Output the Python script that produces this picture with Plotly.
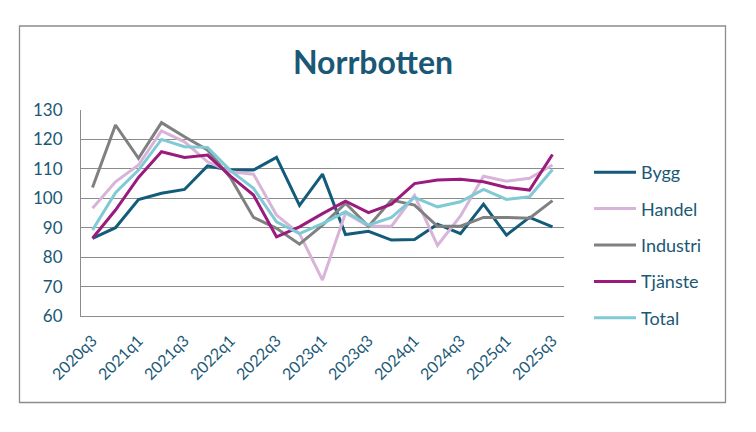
import plotly.graph_objects as go

quarters = ['2020q3', '2020q4', '2021q1', '2021q2', '2021q3', '2021q4', '2022q1', '2022q2',
            '2022q3', '2022q4', '2023q1', '2023q2', '2023q3', '2023q4', '2024q1', '2024q2',
            '2024q3', '2024q4', '2025q1', '2025q2', '2025q3']
tick_labels = quarters[::2]

bygg = [86.4, 90.0, 99.6, 101.7, 103.0, 111.0, 109.6, 109.6, 113.9, 97.6, 108.2, 87.7,
        88.8, 85.8, 86.0, 91.2, 88.0, 98.0, 87.5, 93.5, 90.3]
handel = [96.6, 105.6, 111.3, 122.9, 119.2, 112.4, 109.0, 108.2, 94.3, 88.0, 72.2, 95.0,
          90.5, 90.5, 101.0, 84.0, 94.0, 107.5, 105.8, 106.8, 111.3]
industri = [103.7, 124.9, 113.6, 125.7, 120.9, 116.4, 107.0, 93.5, 89.8, 84.4, 90.9, 98.3,
            90.5, 99.4, 97.7, 90.5, 90.5, 93.5, 93.5, 93.2, 99.2]
tjanste = [86.4, 96.0, 107.1, 115.8, 113.9, 114.7, 107.5, 101.1, 86.9, 90.3, 94.8, 99.0,
           95.1, 98.0, 105.0, 106.2, 106.5, 105.6, 103.7, 102.8, 114.9]
total = [89.2, 101.9, 109.6, 120.0, 117.5, 117.3, 109.4, 103.4, 92.0, 88.0, 91.4, 95.4,
         90.9, 93.5, 100.3, 97.1, 98.8, 103.0, 99.6, 100.5, 109.8]

series = [
    ("Bygg", bygg, "#125B7B"),
    ("Handel", handel, "#D8B4D8"),
    ("Industri", industri, "#808080"),
    ("Tjänste", tjanste, "#9A1A7E"),
    ("Total", total, "#7FCAD4"),
]

text_color = "#1A5876"
font_family = "Lato, 'Open Sans', sans-serif"

fig = go.Figure()
for i, (name, vals, col) in enumerate(series):
    fig.add_trace(go.Scatter(x=quarters, y=vals, name=name, mode="lines",
                             line=dict(color=col, width=3), legendgroup=f"g{i}"))

# plot area geometry in pixels
L, R, T, B = 81, 564, 110, 316
W, H = 756, 432
pw, ph = R - L, B - T

def px_x(px):
    return (px - L) / pw

def px_y(py):
    return (B - py) / ph

fig.add_shape(type="rect", xref="paper", yref="paper",
              x0=px_x(19.5), x1=px_x(725.5), y0=px_y(402.5), y1=px_y(26),
              line=dict(color="#8C8C8C", width=1.3), layer="below")

fig.update_layout(
    width=W, height=H,
    margin=dict(l=L, r=W - R, t=T, b=H - B, pad=0),
    paper_bgcolor="white", plot_bgcolor="white",
    font=dict(family=font_family, color=text_color, size=16),
    title=dict(text="<b>Norrbotten</b>", x=373 / W, xanchor="center",
               y=1 - 63 / H, yanchor="middle",
               font=dict(family=font_family, size=32, color=text_color)),
    legend=dict(x=px_x(589), xanchor="left", y=px_y(154), yanchor="top",
                font=dict(size=18, color=text_color), tracegroupgap=10,
                itemwidth=42, bgcolor="rgba(0,0,0,0)"),
    showlegend=True,
)

fig.update_xaxes(type="category", range=[-0.5, len(quarters) - 0.5],
                 tickmode="array", tickvals=tick_labels, ticktext=tick_labels,
                 tickangle=-45, showgrid=False, showline=True, linecolor="#8C8C8C",
                 linewidth=1, ticks="", ticklabelstandoff=8,
                 tickfont=dict(size=16, color=text_color))
fig.update_yaxes(range=[60, 130], dtick=10, showgrid=True, gridcolor="#8C8C8C",
                 gridwidth=1, showline=True, linecolor="#8C8C8C", linewidth=1,
                 ticks="", zeroline=False, ticklabelstandoff=14,
                 tickfont=dict(size=17, color=text_color))

fig.write_html("out.html", config={"displayModeBar": False},
               post_script="document.body.style.margin='0px';")
